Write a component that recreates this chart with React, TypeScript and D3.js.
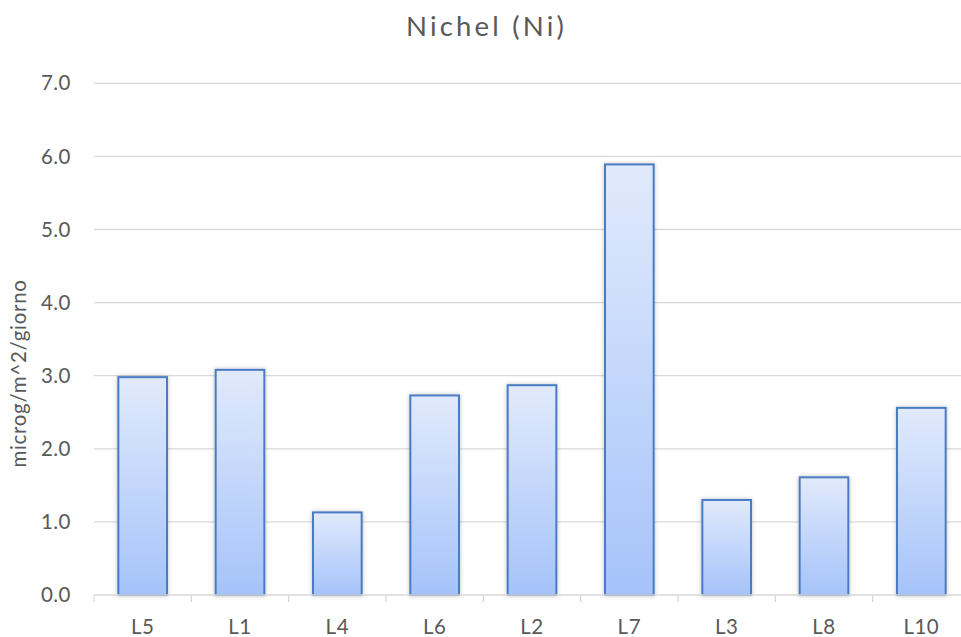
import React from "react";
import * as d3 from "d3";

const categories = ["L5", "L1", "L4", "L6", "L2", "L7", "L3", "L8", "L10"];
const values = [2.98, 3.08, 1.13, 2.73, 2.87, 5.89, 1.3, 1.61, 2.56];
const yTicks = [0, 1, 2, 3, 4, 5, 6, 7];
const title = "Nichel (Ni)";
const yLabel = "microg/m^2/giorno";

const W = 961;
const H = 637;
const left = 94;
const right = 970;
const top = 83.3;
const bottom = 595;
const font = "Lato, 'Open Sans', sans-serif";
const textColor = "#595959";

export default function App() {
  const x = d3.scaleBand<string>().domain(categories).range([left, right]).paddingInner(0.5).paddingOuter(0.25);
  const y = d3.scaleLinear().domain([0, 7]).range([bottom, top]);
  const bandStep = x.step();
  const ticksX = d3.range(categories.length + 1).map((i) => left + i * bandStep);

  return (
    <svg width={W} height={H} style={{ position: "absolute", left: 0, top: 0, background: "#fff" }}>
      <defs>
        <linearGradient id="barGrad" x1="0" y1="0" x2="0" y2="1">
          <stop offset="0%" stopColor="#e1eafc" />
          <stop offset="100%" stopColor="#a5c3fa" />
        </linearGradient>
        <filter id="shadow" x="-20%" y="-5%" width="140%" height="110%">
          <feDropShadow dx="0" dy="0" stdDeviation="2" floodColor="#000" floodOpacity="0.25" />
        </filter>
      </defs>
      <rect x={0} y={0} width={W} height={H} fill="#fff" />
      <text x={486.5} y={36} textAnchor="middle" fontFamily={font} fontSize={27.5} letterSpacing={3.2} fill={textColor}>
        {title}
      </text>
      {yTicks.map((t) => (
        <g key={t}>
          {t > 0 && <line x1={left} x2={right} y1={y(t)} y2={y(t)} stroke="#d9d9d9" strokeWidth={1.3} />}
          <text x={71} y={y(t)} dy="0.35em" textAnchor="end" fontFamily={font} fontSize={20.5} letterSpacing={0.5} fill={textColor}>
            {t.toFixed(1)}
          </text>
        </g>
      ))}
      <text
        transform={`translate(26,${373.5}) rotate(-90)`}
        textAnchor="middle"
        fontFamily={font}
        fontSize={20.5}
        letterSpacing={0.7}
        fill={textColor}
      >
        {yLabel}
      </text>
      {categories.map((c, i) => (
        <rect
          key={c}
          x={x(c)}
          y={y(values[i])}
          width={x.bandwidth()}
          height={bottom - y(values[i])}
          fill="url(#barGrad)"
          stroke="#4a7cc4"
          strokeWidth={2}
          filter="url(#shadow)"
        />
      ))}
      <line x1={left} x2={right} y1={bottom} y2={bottom} stroke="#d9d9d9" strokeWidth={1.3} />
      {ticksX.map((tx, i) => (
        <line key={i} x1={tx} x2={tx} y1={bottom} y2={bottom + 7} stroke="#d9d9d9" strokeWidth={1.3} />
      ))}
      {categories.map((c) => (
        <text
          key={c}
          x={(x(c) as number) + x.bandwidth() / 2}
          y={634}
          textAnchor="middle"
          fontFamily={font}
          fontSize={20.5}
          letterSpacing={0.5}
          fill={textColor}
        >
          {c}
        </text>
      ))}
    </svg>
  );
}
